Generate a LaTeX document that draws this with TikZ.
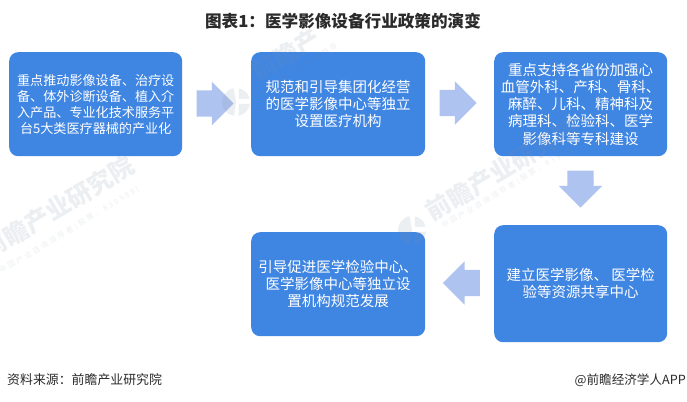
\documentclass[tikz,border=0pt]{standalone}
\usepackage{fontspec}
\setmainfont{Noto Sans CJK SC}
\usetikzlibrary{shapes.arrows}
\definecolor{boxblue}{HTML}{3F85E2}
\definecolor{arrowblue}{HTML}{AFC3F0}
\definecolor{wmark}{HTML}{7F8FA8}
\definecolor{titleink}{HTML}{2B2B2B}
\tikzset{
  flowbox/.style={fill=boxblue,rounded corners=9pt,text=white,align=center,inner sep=0pt,anchor=north west},
  blockarrow/.style={single arrow,fill=arrowblue,draw=none,text=arrowblue,inner sep=0pt,minimum height=37pt,single arrow head extend=8.5pt,single arrow head indent=0pt,rotate=#1},
  wm/.style={text=wmark,text opacity=0.14,font=\fontsize{24.6}{24}\selectfont\bfseries,rotate=31,anchor=west,inner sep=0pt},
  wmsub/.style={text=wmark,text opacity=0.14,font=\fontsize{7.5}{8}\selectfont\addfontfeature{LetterSpace=29},rotate=31,anchor=west,inner sep=0pt},
  logo/.pic={\begin{scope}[yscale=-1]
    \fill[wmark,fill opacity=0.14] (0,0) -- (100:14) arc[start angle=100,end angle=262,radius=14] -- cycle;
    \fill[wmark,fill opacity=0.14] (3,-2) -- (280:14) arc[start angle=280,end angle=352,radius=14] -- cycle;
    \fill[wmark,fill opacity=0.14] (3,3) -- (14:14) arc[start angle=14,end angle=78,radius=14] -- cycle;
  \end{scope}}
}
\newcommand{\bt}{\fontsize{13.1}{16}\selectfont}
\newcommand{\bm}{\fontsize{14.5}{17.2}\selectfont}
\newcommand{\shaft}{\rule[-13pt]{1pt}{26pt}}
\newcommand{\fwcolon}{\symbol{"FF1A}}
\begin{document}
\begin{tikzpicture}[x=1pt,y=-1pt]
\useasboundingbox (0,0) rectangle (687,401);
\fill[white] (0,0) rectangle (687,401);
% title
\node[inner sep=0pt,text=titleink,font=\fontsize{16.6}{16}\selectfont\bfseries] (title) at (343,21) {图表1\fwcolon 医学影像设备行业政策的演变};
% boxes
\node[flowbox,minimum width=173pt,minimum height=104pt,font=\bt] (b1) at (9,52) {重点推动影像设备、治疗设\\备、体外诊断设备、植入介\\入产品、专业化技术服务平\\台5大类医疗器械的产业化};
\node[flowbox,minimum width=174pt,minimum height=104pt,font=\bm] (b2) at (251,52) {规范和引导集团化经营\\的医学影像中心等独立\\设置医疗机构};
\node[flowbox,minimum width=173pt,minimum height=104pt,font=\bm] (b3) at (494,52) {重点支持各省份加强心\\血管外科、产科、骨科、\\麻醉、儿科、精神科及\\病理科、检验科、医学\\影像科等专科建设};
\node[flowbox,minimum width=173pt,minimum height=117pt,font=\bm] (b4) at (494,225) {建立医学影像、 医学检\\验等资源共享中心};
\node[flowbox,minimum width=174pt,minimum height=104pt,font=\bm] (b5) at (251,232) {引导促进医学检验中心、\\医学影像中心等独立设\\置机构规范发展};
% block arrows
\node[blockarrow=0] (a1) at (208.5,103.5) {\shaft};
\node[blockarrow=0] (a2) at (451.5,103) {\shaft};
\node[blockarrow=-90] (a3) at (580.5,182.5) {\shaft};
\node[blockarrow=180] (a4) at (468,283) {\shaft};
% watermarks, laid faintly over everything
\pic at (236,102) {logo};
\node[wm] (wa) at (254,74) {前瞻产};
\node[wmsub] (wasub) at (272,84) {中国产业咨询领导};
\pic at (412,230) {logo};
\node[wm] (wb) at (428,214) {前瞻产业研究院};
\node[wmsub] (wbsub) at (442,227) {中国产业咨询领导者(股票\fwcolon 839599)};
\node[wm] (wc) at (-16,252) {前瞻产业研究院};
\node[wmsub] (wcsub) at (0,272) {中国产业咨询领导者(股票\fwcolon 839599)};
% footer
\node[anchor=west,inner sep=0pt,text=titleink,font=\fontsize{12.9}{13}\selectfont] (src) at (7,380) {资料来源\fwcolon 前瞻产业研究院};
\node[anchor=east,inner sep=0pt,text=titleink,font=\fontsize{12.6}{13}\selectfont] (brand) at (686,380) {@前瞻经济学人APP};
\end{tikzpicture}
\end{document}
